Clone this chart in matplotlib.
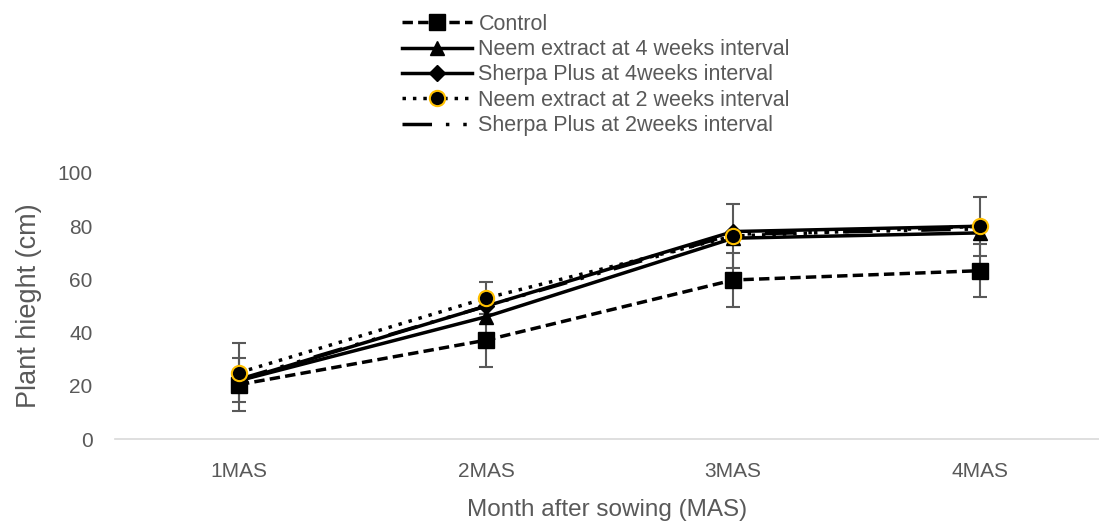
import matplotlib.pyplot as plt
import numpy as np

plt.rcParams['font.family'] = ['Liberation Sans', 'DejaVu Sans']

months = ["1MAS", "2MAS", "3MAS", "4MAS"]
control = [20.5, 37.2, 59.8, 63.3]
control_err = [10, 10, 10, 10]
neem4 = [22, 46, 75.5, 77.5]
sherpa4 = [22, 50, 78, 80]
neem2 = [25, 53, 76.3, 80]
neem2_err = [11, 6, 12, 11]
sherpa2 = [22.5, 50, 77, 79]

x = np.arange(len(months))
grey = "#595959"

fig = plt.figure(figsize=(10.99, 5.21), dpi=100)
ax = fig.add_axes([0.105, 0.157, 0.895, 0.511])

# error bars first so the lines sit on top
ax.errorbar(x, control, yerr=control_err, fmt="none", ecolor=grey, elinewidth=1.5, capsize=5, capthick=1.5, zorder=2)
ax.errorbar(x, neem2, yerr=neem2_err, fmt="none", ecolor=grey, elinewidth=1.5, capsize=5, capthick=1.5, zorder=2)

ax.plot(x, control, color="black", lw=2.5, linestyle=(0, (3, 1.5)), marker="s", markersize=11, label="Control", zorder=3)
ax.plot(x, neem4, color="black", lw=2.5, marker="^", markersize=10, label="Neem extract at 4 weeks interval", zorder=3)
ax.plot(x, sherpa4, color="black", lw=2.5, marker="D", markersize=8, label="Sherpa Plus at 4weeks interval", zorder=3)
ax.plot(x, neem2, color="black", lw=2.5, linestyle=(0, (1, 2)), marker="o", markersize=11,
        markerfacecolor="black", markeredgecolor="#FFC000", markeredgewidth=1.5,
        label="Neem extract at 2 weeks interval", zorder=4)
ax.plot(x, sherpa2, color="black", lw=2.5, linestyle=(0, (8.5, 4, 1, 4, 1, 4)), label="Sherpa Plus at 2weeks interval", zorder=3)

ax.set_xlim(-0.5, 3.48)
ax.set_ylim(0, 100)
ax.set_yticks(range(0, 101, 20))
ax.set_xticks(x)
ax.set_xticklabels(months)
ax.tick_params(colors=grey, labelsize=15, length=0, pad=16.5)
for s in ["top", "right", "left"]:
    ax.spines[s].set_visible(False)
ax.spines["bottom"].set_color("#D9D9D9")
ax.spines["bottom"].set_linewidth(1.2)

ax.set_ylabel("Plant hieght (cm)", fontsize=19.5, color=grey, labelpad=11)
ax.set_xlabel("Month after sowing (MAS)", fontsize=17.5, color=grey, labelpad=13)

leg = fig.legend(loc="upper left", bbox_to_anchor=(0.358, 0.99), frameon=False, fontsize=15.5,
                 handlelength=3.25, labelspacing=0.2, handletextpad=0.3, borderaxespad=0)
for t in leg.get_texts():
    t.set_color(grey)

fig.savefig("out.png", dpi=100)
